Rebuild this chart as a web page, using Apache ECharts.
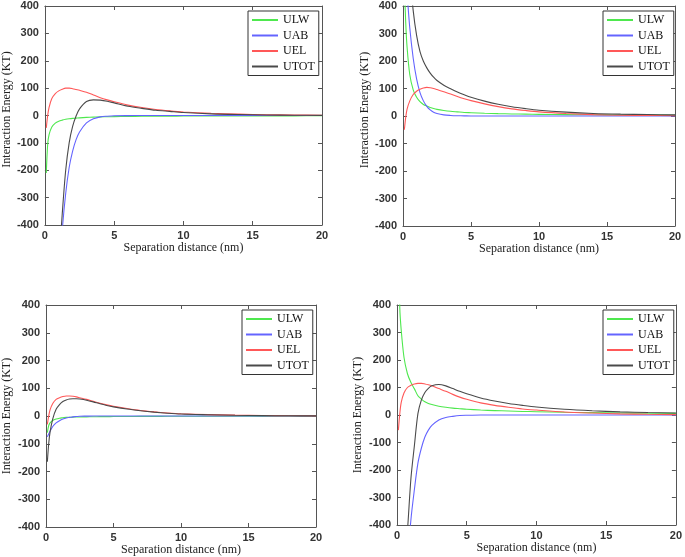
<!DOCTYPE html>
<html>
<head>
<meta charset="utf-8">
<script src="https://cdn.jsdelivr.net/npm/echarts@6/dist/echarts.min.js"></script>
<style>html,body{margin:0;padding:0;background:#fff;}#c{width:685px;height:557px;}</style>
</head>
<body>
<div id="c"></div>
<script>
// Separation distance (nm)
const X = [0.1, 0.2, 0.3, 0.5, 0.75, 1, 1.25, 1.5, 1.75, 2, 2.25, 2.5, 3, 3.5, 4, 4.5, 5, 6, 7, 8, 9, 10, 12, 14, 16, 18, 20];
const SERIES_NAMES = ['ULW', 'UAB', 'UEL', 'UTOT'];
const X_TICKS = [0, 5, 10, 15, 20];
const Y_TICKS = [-400, -300, -200, -100, 0, 100, 200, 300, 400];

// Panel 1 (top-left)
const P1_ULW  = [-210, -105, -70, -42, -28, -21, -17, -14, -12, -10.5, -9.5, -8.5, -7, -6, -5, -4.7, -4.2, -3.5, -3, -2.6, -2.3, -2.1, -1.8, -1.5, -1.3, -1.2, -1];
const P1_UAB  = [-2400, -2000, -1700, -1250, -850, -620, -420, -285, -190, -130, -88, -60, -27, -12, -5, -2.5, -1, -0.3, 0, 0, 0, 0, 0, 0, 0, 0, 0];
const P1_UEL  = [-45, 0, 30, 62, 80, 90, 96, 100, 100, 98, 95, 92, 85, 75, 65, 57, 50, 38, 29, 22, 17, 13, 8, 5, 3, 2, 1];
const P1_UTOT = [-2650, -2200, -1750, -1250, -800, -550, -360, -200, -100, -40, -2, 24, 51, 57, 56, 52, 46, 34, 26, 19, 15, 11, 6, 3.5, 2, 1, 0.5];

// Panel 2 (top-right)
const P2_ULW  = [480, 340, 250, 150, 95, 68, 52, 42, 36, 31, 27, 24, 20, 17, 15, 13, 12, 10, 8.5, 7.5, 6.7, 6, 5, 4.3, 3.8, 3.4, 3];
const P2_UAB  = [640, 540, 450, 320, 210, 135, 85, 55, 35, 22, 14, 9, 4, 2, 1, 0.5, 0, 0, 0, 0, 0, 0, 0, 0, 0, 0, 0];
const P2_UEL  = [-50, -5, 25, 55, 78, 90, 97, 102, 104, 103, 100, 96, 88, 80, 71, 63, 56, 44, 34, 26, 20, 15, 9, 5, 3, 2, 1];
const P2_UTOT = [1070, 875, 725, 525, 383, 293, 234, 199, 175, 156, 141, 129, 112, 99, 87, 77, 68, 54, 42.5, 33.5, 26.7, 21, 14, 9.3, 6.8, 5.4, 4];

// Panel 3 (bottom-left)
const P3_ULW  = [-60, -35, -25, -16, -11, -8, -6.5, -5, -4.5, -4, -3.7, -3.4, -3, -2.7, -2.4, -2.2, -2, -1.7, -1.5, -1.3, -1.1, -1, -0.9, -0.8, -0.7, -0.6, -0.5];
const P3_UAB  = [-75, -65, -55, -38, -25, -17, -11, -7, -5, -3, -2, -1, -0.5, 0, 0, 0, 0, 0, 0, 0, 0, 0, 0, 0, 0, 0, 0];
const P3_UEL  = [-30, 0, 22, 45, 60, 66, 70, 72, 72, 71, 69, 66, 60, 53, 46, 40, 35, 27, 20, 15, 11, 8, 5, 3, 2, 1, 0.5];
const P3_UTOT = [-165, -100, -58, -10, 24, 41, 52, 58, 61, 62, 62, 61, 57, 51, 44, 38, 33, 25, 19, 14, 10, 7, 4.5, 2.5, 1.5, 0.7, 0.3];

// Panel 4 (bottom-right)
const P4_ULW  = [700, 390, 310, 210, 150, 118, 95, 70, 58, 48, 42, 38, 32, 28, 25, 23, 21, 18, 16, 14.5, 13, 12, 10, 8.5, 7.5, 6.5, 6];
const P4_UAB  = [-2000, -1600, -1300, -850, -550, -380, -270, -175, -120, -80, -55, -38, -18, -9, -5, -2, -1, 0, 0, 0, 0, 0, 0, 0, 0, 0, 0];
const P4_UEL  = [-55, 5, 45, 80, 100, 108, 113, 115, 115, 113, 110, 106, 96, 86, 75, 65, 57, 44, 35, 28, 22, 18, 11, 7, 4, 2.5, 1.5];
const P4_UTOT = [-1300, -1200, -950, -560, -420, -230, -110, 5, 55, 82, 97, 106, 111, 106, 96, 86, 77, 62, 51, 42, 35, 29, 21, 15.5, 11.5, 9, 7.5];

const PANELS = [
  [P1_ULW, P1_UAB, P1_UEL, P1_UTOT],
  [P2_ULW, P2_UAB, P2_UEL, P2_UTOT],
  [P3_ULW, P3_UAB, P3_UEL, P3_UTOT],
  [P4_ULW, P4_UAB, P4_UEL, P4_UTOT]
];

// Layout (pixels)
const LAYOUT = [
  {left: 41,  top: 6,   width: 281, height: 219, yGap: 31, yPad: 12, legL: 248, legT: 11},
  {left: 403, top: 6,   width: 272, height: 220, yGap: 30, yPad: 12, legL: 603, legT: 11},
  {left: 41,  top: 305, width: 275, height: 222, yGap: 33, yPad: 0,  legL: 242, legT: 310},
  {left: 397, top: 305, width: 281, height: 220, yGap: 33, yPad: 0,  legL: 603, legT: 310}
];
const COLORS = ['#4ee84e', '#6464ff', '#ff5858', '#4a4a4a'];
const AXIS_COLOR = '#555';
const TICK_FONT = {fontFamily: '"Liberation Sans Narrow", "Liberation Sans", sans-serif', fontSize: 11, fontWeight: 'bold', color: '#333'};
const SERIF = 'Liberation Serif';

const grid = [], xAxis = [], yAxis = [], series = [], legend = [];
LAYOUT.forEach((L, i) => {
  grid.push({left: L.left, top: L.top, width: L.width, height: L.height, show: false});
  const xCommon = {type: 'value', gridIndex: i, min: 0, max: 20, interval: 5,
    axisLine: {show: true, onZero: false, lineStyle: {color: AXIS_COLOR, width: 1}},
    axisTick: {show: true, inside: true, length: 4, lineStyle: {color: AXIS_COLOR}},
    splitLine: {show: false}};
  xAxis.push(Object.assign({}, xCommon, {position: 'bottom',
    name: 'Separation distance (nm)', nameLocation: 'middle', nameGap: 15,
    nameTextStyle: {fontFamily: SERIF, fontSize: 12, color: '#222'},
    axisLabel: Object.assign({margin: 5}, TICK_FONT)}));
  xAxis.push(Object.assign({}, xCommon, {position: 'top', axisLabel: {show: false}}));
  const yCommon = {type: 'value', gridIndex: i, min: -400, max: 400, interval: 100,
    axisLine: {show: true, onZero: false, lineStyle: {color: AXIS_COLOR, width: 1}},
    axisTick: {show: true, inside: true, length: 4, lineStyle: {color: AXIS_COLOR}},
    splitLine: {show: false}};
  yAxis.push(Object.assign({}, yCommon, {position: 'left',
    name: 'Interaction Energy (KT)', nameLocation: 'middle', nameGap: L.yGap, nameRotate: 90,
    nameTextStyle: {fontFamily: SERIF, fontSize: 12, color: '#222', padding: [0, 0, 0, L.yPad]},
    axisLabel: Object.assign({margin: 6}, TICK_FONT)}));
  yAxis.push(Object.assign({}, yCommon, {position: 'right', axisLabel: {show: false}}));

  PANELS[i].forEach((vals, s) => {
    series.push({
      type: 'line', name: SERIES_NAMES[s], xAxisIndex: 2 * i, yAxisIndex: 2 * i,
      data: X.map((x, k) => [x, vals[k]]),
      showSymbol: false, symbol: 'none', smooth: 0.3, clip: true,
      lineStyle: {color: COLORS[s], width: 1.1}, itemStyle: {color: COLORS[s]},
      z: 2 + s, animation: false
    });
  });
  legend.push({
    orient: 'vertical', left: L.legL, top: L.legT,
    data: SERIES_NAMES.map((n, s) => ({name: n, icon: 'rect', itemStyle: {color: COLORS[s]}})),
    itemWidth: 26, itemHeight: 2, itemGap: 3.5,
    padding: [3, 4, 3, 4], borderColor: '#333', borderWidth: 1, borderRadius: 0,
    backgroundColor: '#fff', selectedMode: false,
    textStyle: {fontFamily: SERIF, fontSize: 12, lineHeight: 12, color: '#111'}
  });
});

const chart = echarts.init(document.getElementById('c'), null, {renderer: 'canvas'});
chart.setOption({animation: false, grid, xAxis, yAxis, series, legend});
</script>
</body>
</html>
